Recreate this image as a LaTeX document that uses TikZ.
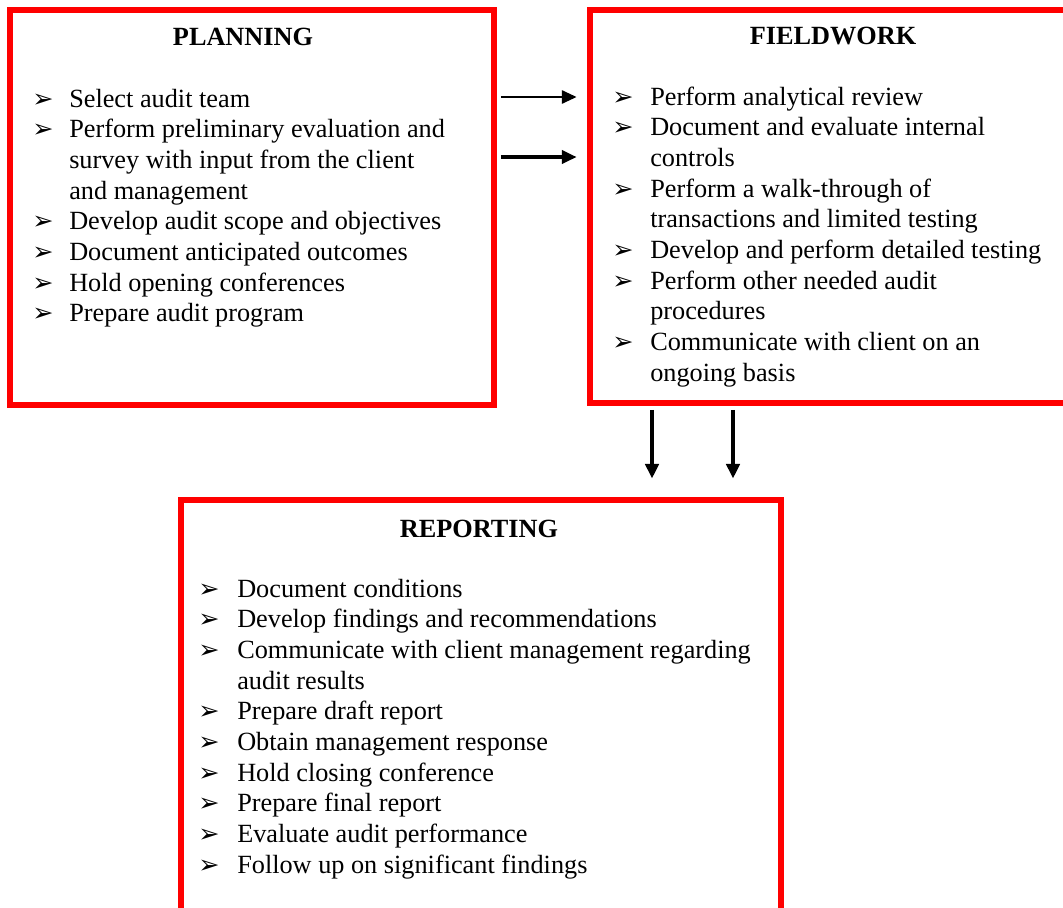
\documentclass[tikz,border=0pt]{standalone}
\usepackage{fontspec}
\setmainfont{Liberation Serif}
\newfontfamily\dingfont{DejaVu Sans}
\usetikzlibrary{positioning,calc,arrows.meta,fit}

\tikzset{
  boxframe/.style={draw=red,line width=5.2pt,inner sep=0pt},
  headtext/.style={anchor=base,inner sep=0pt,font=\fontsize{19.7}{24}\selectfont\bfseries},
  itemtext/.style={anchor=base west,inner sep=0pt,font=\fontsize{19.7}{24}\selectfont},
  bulletmark/.style={anchor=base west,inner sep=0pt,font=\dingfont\fontsize{19}{22}\selectfont},
  arr/.style={-{Triangle[length=11pt,width=10pt]},line width=#1},
  arr/.default=1.3pt
}

\begin{document}
\begin{tikzpicture}[x=0.75pt,y=-0.75pt]
\useasboundingbox (0,0) rectangle (1063,907);

% the three phases
\node[boxframe,fit={(10,10) (494,405)}] (planning) {};
\node[boxframe,fit={(590,10) (1095,403)}] (fieldwork) {};
\node[boxframe,fit={(181,500) (781,950)}] (reporting) {};

\node[headtext] (planhead) at (243,45) {PLANNING};
\node[headtext] (fieldhead) at (833,44) {FIELDWORK};
\node[headtext] (rephead) at (479,537) {REPORTING};

% planning items
\foreach \i/\t in {0/Select audit team,1/Perform preliminary evaluation and,2/survey with input from the client,3/and management,4/Develop audit scope and objectives,5/Document anticipated outcomes,6/Hold opening conferences,7/Prepare audit program} {
    \node[itemtext] (p\i) at (69,{107+\i*30.7}) {\t};
}
\foreach \i in {0,1,4,5,6,7} {
    \node[bulletmark] (pb\i) at (32,{107+\i*30.7}) {➢};
}

% fieldwork items
\foreach \i/\t in {0/Perform analytical review,1/Document and evaluate internal,2/controls,3/Perform a walk-through of,4/transactions and limited testing,5/Develop and perform detailed testing,6/Perform other needed audit,7/procedures,8/Communicate with client on an,9/ongoing basis} {
    \node[itemtext] (f\i) at (650,{105+\i*30.7}) {\t};
}
\foreach \i in {0,1,3,5,6,8} {
    \node[bulletmark] (fb\i) at (612,{105+\i*30.7}) {➢};
}

% reporting items
\foreach \i/\t in {0/Document conditions,1/Develop findings and recommendations,2/Communicate with client management regarding,3/audit results,4/Prepare draft report,5/Obtain management response,6/Hold closing conference,7/Prepare final report,8/Evaluate audit performance,9/Follow up on significant findings} {
    \node[itemtext] (r\i) at (237,{597+\i*30.7}) {\t};
}
\foreach \i in {0,1,2,4,5,6,7,8,9} {
    \node[bulletmark] (rb\i) at (198,{597+\i*30.7}) {➢};
}

% connectors
\coordinate (h1) at (0,97);
\coordinate (h2) at (0,157);
\coordinate (v1) at (652,0);
\coordinate (v2) at (733,0);
\draw[arr,shorten <=2.6pt,shorten >=7.5pt] (planning.east |- h1) -- (fieldwork.west |- h1);
\draw[arr=2.4pt,shorten <=2.6pt,shorten >=7.5pt] (planning.east |- h2) -- (fieldwork.west |- h2);
\draw[arr=2.6pt,shorten <=2.6pt,shorten >=13.5pt] (fieldwork.south -| v1) -- (reporting.north -| v1);
\draw[arr=2.6pt,shorten <=2.6pt,shorten >=13.5pt] (fieldwork.south -| v2) -- (reporting.north -| v2);
\end{tikzpicture}
\end{document}
